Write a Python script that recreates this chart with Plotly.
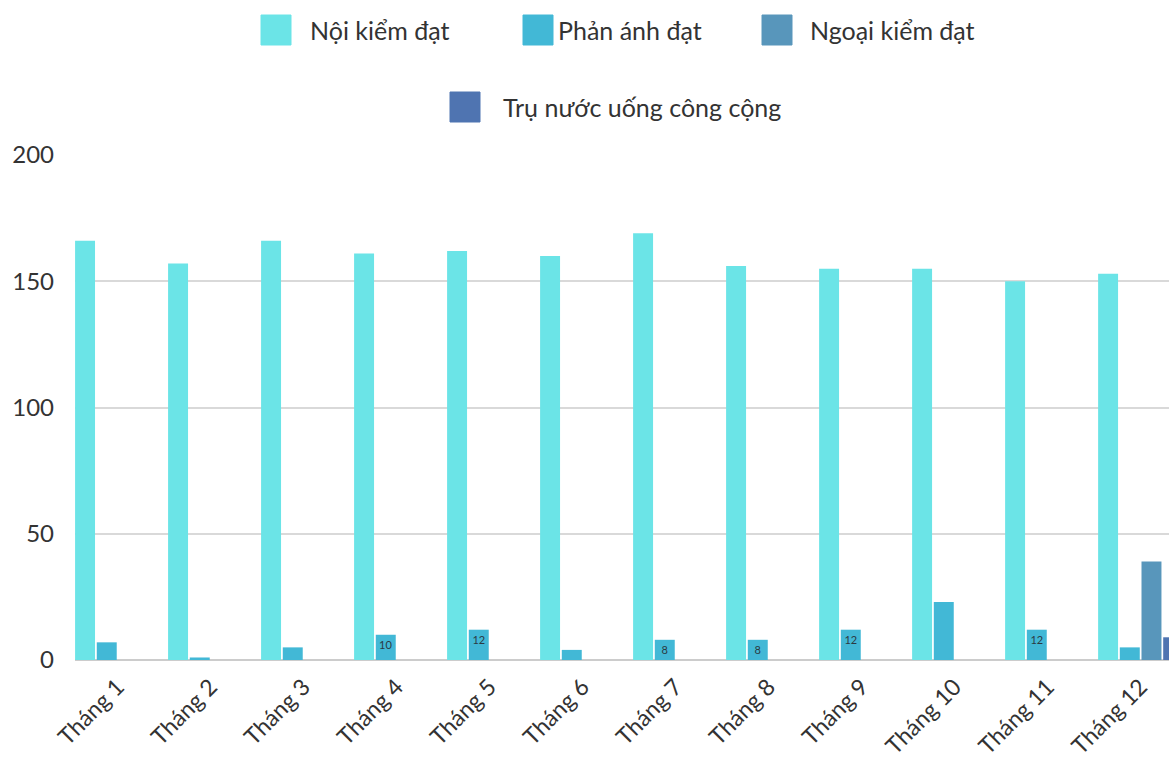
import plotly.graph_objects as go

months = ["Tháng 1", "Tháng 2", "Tháng 3", "Tháng 4", "Tháng 5", "Tháng 6",
          "Tháng 7", "Tháng 8", "Tháng 9", "Tháng 10", "Tháng 11", "Tháng 12"]
series_names = ["Nội kiểm đạt", "Phản ánh đạt", "Ngoại kiểm đạt", "Trụ nước uống công cộng"]
noi_kiem = [166, 157, 166, 161, 162, 160, 169, 156, 155, 155, 150, 153]
phan_anh = [7, 1, 5, 10, 12, 4, 8, 8, 12, 23, 12, 5]
ngoai_kiem = [0, 0, 0, 0, 0, 0, 0, 0, 0, 0, 0, 39]
tru_nuoc = [0, 0, 0, 0, 0, 0, 0, 0, 0, 0, 0, 9]
# which bars carry a visible value label in the original
phan_anh_labeled = [False, False, False, True, True, False, True, True, True, False, True, False]
tru_nuoc_labeled = [False] * 11 + [True]

colors = ["#6be4e7", "#42b8d6", "#5896bb", "#4f74b1"]

values = [noi_kiem, phan_anh, ngoai_kiem, tru_nuoc]
labels = [
    [""] * 12,
    [str(v) if f else "" for v, f in zip(phan_anh, phan_anh_labeled)],
    [""] * 12,
    [str(v) if f else "" for v, f in zip(tru_nuoc, tru_nuoc_labeled)],
]

fig = go.Figure()
for name, vals, txt, c in zip(series_names, values, labels, colors):
    fig.add_trace(go.Bar(
        x=months, y=vals, name=name, text=txt,
        textposition="inside", insidetextanchor="end", textangle=0,
        textfont=dict(size=11, color="#2b3a44", family="Lato"),
        marker=dict(color=c, line=dict(width=0)),
        showlegend=False,
    ))

W, H = 1169, 759
L, T, B = 75, 155, 99
PW = W - L
PH = H - T - B

def px(x):
    return (x - L) / PW

def py(y):
    return (H - B - y) / PH

legend_items = [
    (series_names[0], 261, 15, 308),
    (series_names[1], 523, 15, 556),
    (series_names[2], 762, 15, 808),
    (series_names[3], 450, 92, 501),
]
shapes = []
annotations = []
for (name, bx, by, tx), c in zip(legend_items, colors):
    shapes.append(dict(type="rect", xref="paper", yref="paper",
                       x0=px(bx), x1=px(bx + 30), y0=py(by + 30), y1=py(by),
                       fillcolor=c, line=dict(color=c, width=1), layer="above"))
    annotations.append(dict(text=name, xref="paper", yref="paper",
                            x=px(tx), y=py(by + 15), xanchor="left", yanchor="middle",
                            showarrow=False, font=dict(size=25, color="#333333", family="Lato")))

fig.update_layout(
    width=W, height=H,
    margin=dict(l=L, r=0, t=T, b=B),
    paper_bgcolor="white", plot_bgcolor="white",
    barmode="group", bargap=0.067, bargroupgap=0.08,
    shapes=shapes, annotations=annotations,
    font=dict(family="Lato", color="#333333"),
    xaxis=dict(range=[-0.458, 11.305], tickangle=-45, showgrid=False,
               tickfont=dict(size=23, color="#333333"), ticks="",
               ticklabelstandoff=8,
               showline=False, zeroline=False),
    yaxis=dict(range=[0, 200], tickvals=[0, 50, 100, 150, 200], showgrid=True,
               gridcolor="#d9d9d9", gridwidth=1.5, zeroline=True, zerolinecolor="#cccccc",
               zerolinewidth=2, tickfont=dict(size=24, color="#333333"),
               ticklabelstandoff=20, showline=False),
)

fig.write_html("out.html", config={"displayModeBar": False},
               post_script="document.body.style.margin='0';")
